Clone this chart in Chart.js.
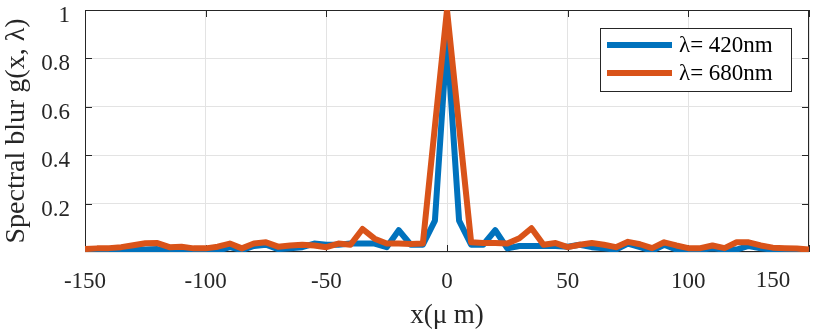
<!DOCTYPE html>
<html>
<head>
<meta charset="utf-8">
<script src="https://cdn.jsdelivr.net/npm/chart.js@4.4.1/dist/chart.umd.min.js"></script>
<style>
  html, body { margin: 0; background: #fff; }
  #wrap { width: 830px; height: 332px; }
</style>
</head>
<body>
<div id="wrap"><canvas id="blur-chart"></canvas></div>
<script>
const xPositions = [-150, -145, -140, -135, -130, -125, -120, -115, -110, -105, -100, -95, -90, -85, -80, -75, -70, -65, -60, -55, -50, -45, -40, -35, -30, -25, -20, -15, -10, -5, 0, 5, 10, 15, 20, 25, 30, 35, 40, 45, 50, 55, 60, 65, 70, 75, 80, 85, 90, 95, 100, 105, 110, 115, 120, 125, 130, 135, 140, 145, 150];
const blur420 = [0.003, 0.003, 0.008, 0.012, 0.012, 0.01, 0.012, 0.005, 0.012, 0.01, 0.012, 0.005, 0.02, 0.008, 0.025, 0.03, 0.012, 0.015, 0.02, 0.035, 0.03, 0.03, 0.035, 0.035, 0.035, 0.02, 0.09, 0.03, 0.03, 0.13, 0.88, 0.13, 0.03, 0.03, 0.09, 0.015, 0.025, 0.025, 0.025, 0.025, 0.022, 0.03, 0.02, 0.015, 0.01, 0.035, 0.02, 0.005, 0.03, 0.01, 0.01, 0.01, 0.015, 0.01, 0.01, 0.025, 0.015, 0.01, 0.005, 0.003, 0.003];
const blur680 = [0.012, 0.015, 0.016, 0.02, 0.028, 0.036, 0.037, 0.02, 0.022, 0.015, 0.015, 0.022, 0.035, 0.015, 0.035, 0.04, 0.022, 0.027, 0.03, 0.027, 0.02, 0.035, 0.03, 0.095, 0.055, 0.035, 0.035, 0.033, 0.035, 0.52, 1.0, 0.52, 0.04, 0.037, 0.037, 0.035, 0.057, 0.098, 0.03, 0.037, 0.02, 0.03, 0.037, 0.03, 0.02, 0.042, 0.032, 0.016, 0.04, 0.027, 0.016, 0.016, 0.027, 0.016, 0.04, 0.04, 0.027, 0.018, 0.016, 0.014, 0.01];
const seriesLabels = ["λ= 420nm", "λ= 680nm"];
const xTickValues = [-150, -100, -50, 0, 50, 100, 150];
const yTickValues = [0.2, 0.4, 0.6, 0.8, 1];

const BLUE = "#0072BD";
const ORANGE = "#D95319";
const AXIS = "#262626";
const FONT = '"Liberation Serif", "Times New Roman", serif';

Chart.defaults.font.family = FONT;
Chart.defaults.color = AXIS;

// box round the plot with inward ticks, like a matlab axes
const axesBox = {
  id: "axesBox",
  beforeDatasetsDraw(chart) {
    const { ctx, chartArea: a, scales: { x, y } } = chart;
    ctx.save();
    ctx.strokeStyle = AXIS;
    ctx.lineWidth = 1;
    ctx.strokeRect(a.left + 0.5, a.top + 0.5, a.right - a.left - 1, a.bottom - a.top - 1);
    ctx.beginPath();
    xTickValues.forEach(v => {
      const px = Math.round(x.getPixelForValue(v)) + 0.5;
      ctx.moveTo(px, a.bottom); ctx.lineTo(px, a.bottom - 7);
      ctx.moveTo(px, a.top); ctx.lineTo(px, a.top + 7);
    });
    yTickValues.forEach(v => {
      const py = Math.round(y.getPixelForValue(v)) + 0.5;
      ctx.moveTo(a.left, py); ctx.lineTo(a.left + 7, py);
      ctx.moveTo(a.right, py); ctx.lineTo(a.right - 7, py);
    });
    ctx.stroke();
    ctx.restore();
  },
  afterDraw(chart) {
    // the last x label sits left of its tick in the original
    const { ctx, chartArea: a, scales: { x } } = chart;
    ctx.save();
    ctx.font = "23px " + FONT;
    ctx.fillStyle = AXIS;
    ctx.textAlign = "center";
    ctx.textBaseline = "middle";
    ctx.fillText("150", x.getPixelForValue(150) - 36, a.bottom + 29);
    ctx.restore();
  }
};

const boxLegend = {
  id: "boxLegend",
  afterDraw(chart) {
    const { ctx } = chart;
    const left = 600, top = 28, w = 191, h = 63;
    ctx.save();
    ctx.fillStyle = "#fff";
    ctx.fillRect(left, top, w, h);
    ctx.strokeStyle = AXIS;
    ctx.lineWidth = 1;
    ctx.strokeRect(left + 0.5, top + 0.5, w, h);
    ctx.font = "23px " + FONT;
    ctx.textBaseline = "middle";
    ctx.fillStyle = "#000";
    [BLUE, ORANGE].forEach((c, i) => {
      const cy = top + 17 + i * 28;
      ctx.strokeStyle = c;
      ctx.lineWidth = 6;
      ctx.beginPath();
      ctx.moveTo(left + 7, cy);
      ctx.lineTo(left + 72, cy);
      ctx.stroke();
      ctx.fillText(seriesLabels[i], left + 79, cy + 1);
    });
    ctx.restore();
  }
};

new Chart(document.getElementById("blur-chart"), {
  type: "line",
  data: {
    datasets: [
      {
        label: seriesLabels[0],
        data: xPositions.map((x, i) => ({ x: x, y: blur420[i] })),
        borderColor: BLUE,
        borderWidth: 6,
        order: 1,
      },
      {
        label: seriesLabels[1],
        data: xPositions.map((x, i) => ({ x: x, y: blur680[i] })),
        borderColor: ORANGE,
        borderWidth: 6,
        order: 0,
      },
    ],
  },
  options: {
    responsive: true,
    maintainAspectRatio: false,
    animation: false,
    layout: { padding: { top: 10, right: 21, left: 0, bottom: 0 } },
    elements: {
      point: { radius: 0 },
      line: { tension: 0, borderJoinStyle: "round", borderCapStyle: "butt" },
    },
    scales: {
      x: {
        type: "linear",
        min: -150,
        max: 150,
        afterFit: s => { s.height = 80; s.paddingLeft = 0; s.paddingRight = 0; },
        afterBuildTicks: s => { s.ticks = xTickValues.map(v => ({ value: v })); },
        grid: { color: "#e3e3e3", drawTicks: false },
        border: { display: false },
        ticks: {
          padding: 16,
          font: { size: 23 },
          color: AXIS,
          maxRotation: 0,
          callback: v => (v === 150 ? "" : v),
        },
        title: {
          display: true,
          text: "x(μ m)",
          font: { size: 27 },
          color: AXIS,
          padding: { top: 0, bottom: 0 },
        },
      },
      y: {
        min: 0,
        max: 1,
        afterFit: s => { s.width = 85; s.paddingTop = 0; s.paddingBottom = 0; },
        afterBuildTicks: s => { s.ticks = [0].concat(yTickValues).map(v => ({ value: v })); },
        grid: { color: "#e3e3e3", drawTicks: false },
        border: { display: false },
        ticks: {
          padding: 15,
          labelOffset: 6,
          font: { size: 23 },
          color: AXIS,
          callback: v => (v === 0 ? "" : v),
        },
        title: {
          display: true,
          text: "Spectral blur g(x, λ)",
          font: { size: 28 },
          color: AXIS,
          padding: { top: 0, bottom: 4 },
        },
      },
    },
    plugins: {
      legend: { display: false },
      tooltip: { enabled: false },
    },
  },
  plugins: [axesBox, boxLegend],
});
</script>
</body>
</html>
